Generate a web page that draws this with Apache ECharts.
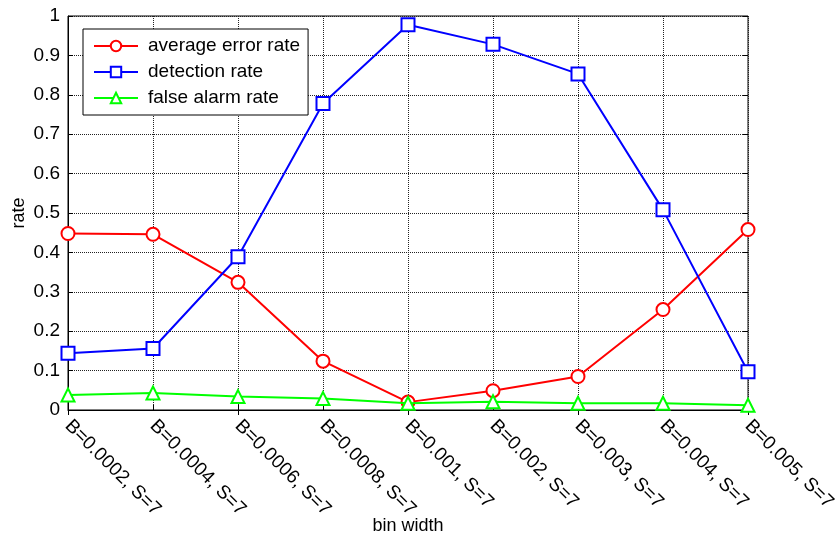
<!DOCTYPE html>
<html><head><meta charset="utf-8">
<script src="https://cdn.jsdelivr.net/npm/echarts@6/dist/echarts.min.js"></script>
<style>html,body{margin:0;padding:0;background:#fff}#c{width:835px;height:539px}</style>
</head><body><div id="c"></div>
<script>
const categories = ['B=0.0002, S=7','B=0.0004, S=7','B=0.0006, S=7','B=0.0008, S=7','B=0.001, S=7','B=0.002, S=7','B=0.003, S=7','B=0.004, S=7','B=0.005, S=7'];
const averageErrorRate = [0.448, 0.446, 0.324, 0.124, 0.020, 0.049, 0.085, 0.255, 0.458];
const detectionRate = [0.144, 0.156, 0.389, 0.778, 0.978, 0.928, 0.853, 0.508, 0.097];
const falseAlarmRate = [0.038, 0.043, 0.034, 0.029, 0.017, 0.021, 0.017, 0.017, 0.012];
const yTicks = {min: 0, max: 1, interval: 0.1};

const font = 'Liberation Sans, Arial, sans-serif';
const chart = echarts.init(document.getElementById('c'));
const gridLine = {show: true, lineStyle: {color: '#222', type: [1, 1], width: 1}};
function mk(name, data, color, symbol, z) {
  return {name, type: 'line', data, z, symbol, symbolSize: 13, showSymbol: true,
    lineStyle: {color, width: 2}, itemStyle: {color, borderColor: color, borderWidth: 2},
    emphasis: {disabled: true}, animation: false};
}
chart.setOption({
  animation: false,
  grid: {left: 68, right: 87, top: 16, bottom: 129, show: true, borderColor: '#000', borderWidth: 1,
    backgroundColor: 'transparent', containLabel: false, outerBoundsMode: 'none'},
  legend: {
    orient: 'vertical', left: 83, top: 29, padding: [7, 8, 7, 10], itemGap: 6,
    itemWidth: 44, itemHeight: 13, backgroundColor: '#fff', borderColor: '#000', borderWidth: 1,
    textStyle: {fontFamily: font, fontSize: 19, color: '#000', lineHeight: 20, padding: [0, 0, 0, 5]},
    data: ['average error rate', 'detection rate', 'false alarm rate']
  },
  xAxis: [{
    type: 'category', data: categories, boundaryGap: false,
    name: 'bin width', nameLocation: 'middle', nameGap: 107, nameMoveOverlap: false,
    nameTextStyle: {fontFamily: font, fontSize: 18, color: '#000'},
    axisLine: {lineStyle: {color: '#000', width: 1}},
    axisTick: {inside: true, length: 5, lineStyle: {color: '#000'}},
    axisLabel: {rotate: -45, fontFamily: font, fontSize: 19, color: '#000', margin: 13},
    splitLine: gridLine
  }, {
    type: 'category', data: categories, boundaryGap: false, position: 'top',
    axisLine: {show: false}, axisTick: {inside: true, length: 5, lineStyle: {color: '#000'}},
    axisLabel: {show: false}, splitLine: {show: false}
  }],
  yAxis: [{
    type: 'value', min: yTicks.min, max: yTicks.max, interval: yTicks.interval,
    name: 'rate', nameLocation: 'middle', nameGap: 40, nameMoveOverlap: false,
    nameTextStyle: {fontFamily: font, fontSize: 18, color: '#000'},
    axisLine: {show: true, lineStyle: {color: '#000', width: 1}},
    axisTick: {show: true, inside: true, length: 5, lineStyle: {color: '#000'}},
    axisLabel: {fontFamily: font, fontSize: 19, color: '#000', margin: 8,
      formatter: v => String(Math.round(v * 10) / 10)},
    splitLine: gridLine
  }, {
    type: 'value', min: yTicks.min, max: yTicks.max, interval: yTicks.interval, position: 'right',
    axisLine: {show: false}, axisTick: {show: true, inside: true, length: 5, lineStyle: {color: '#000'}},
    axisLabel: {show: false}, splitLine: {show: false}
  }],
  series: [
    mk('average error rate', averageErrorRate, '#ff0000', 'emptyCircle', 2),
    mk('detection rate', detectionRate, '#0000ff', 'emptyRect', 3),
    mk('false alarm rate', falseAlarmRate, '#00ff00', 'emptyTriangle', 4)
  ]
});
</script></body></html>
